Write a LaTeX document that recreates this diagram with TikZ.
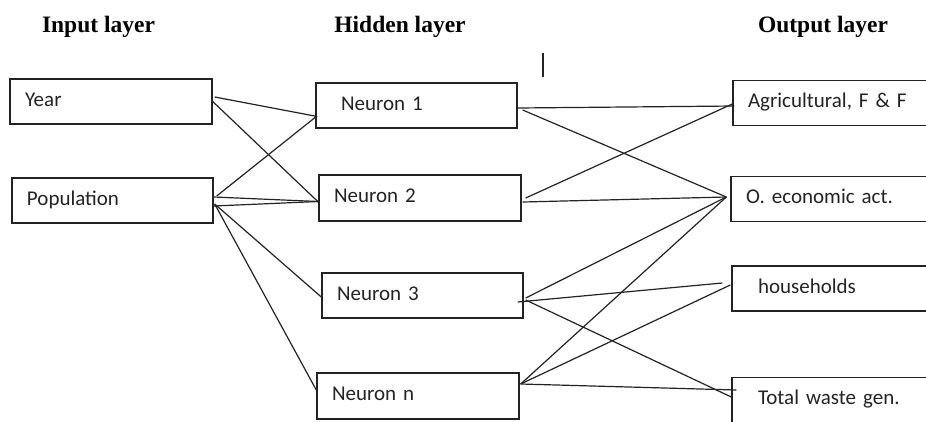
\documentclass[tikz,border=0pt]{standalone}
\usepackage{fontspec}
\setmainfont{Carlito}
\newfontfamily\titlefont{Liberation Serif}
\usepackage{tikz}
\definecolor{linkgray}{RGB}{35,35,35}
\tikzstyle{unitbox} = [draw=linkgray, line width=1.4pt, minimum height=45pt, inner xsep=15pt, text width=172pt, align=left, text height=14pt, text depth=5pt, text=linkgray, font=\fontsize{21}{26}\selectfont]
\tikzstyle{link} = [line width=1.2pt, color=linkgray]
\tikzstyle{layertitle} = [anchor=base, font=\titlefont\bfseries\fontsize{23.5}{28}\selectfont]

\begin{document}
\begin{tikzpicture}[x=1pt, y=-1pt]
\clip (0,0) rectangle (926,421);

% Layer titles
\node[layertitle] (tin) at (98.5,32) {Input layer};
\node[layertitle] (thid) at (400,32) {Hidden layer};
\node[layertitle] (tout) at (823,32) {Output layer};

% Input layer
\node[unitbox] (year) at (111,101.5) {Year};
\node[unitbox, text width=171pt] (pop) at (112.5,200.5) {Population};

% Hidden layer
\node[unitbox, inner xsep=25pt, text width=151pt] (n1) at (416.5,105.5) {Neuron 1};
\node[unitbox, minimum height=46pt] (n2) at (420,198) {Neuron 2};
\node[unitbox, text width=171pt] (n3) at (422.5,295.5) {Neuron 3};
\node[unitbox, minimum height=46pt] (nn) at (418,396) {Neuron n};

% Output layer
\node[unitbox] (agri) at (834,103) {Agricultural, F \& F};
\node[unitbox] (oeco) at (832,199) {O. economic act.};
\node[unitbox, inner xsep=26pt, text width=150pt] (hh) at (833,288.5) {households};
\node[unitbox, inner xsep=26pt, text width=150pt] (tw) at (833,400) {Total waste gen.};

% Stray mark
\coordinate (mark) at (543,53);
\draw[link] (mark) -- ++(0,24);

% Input -> hidden
\draw[link] ([xshift=2pt,yshift=4.5pt]year.east) -- ([xshift=2pt,yshift=-11pt]n1.west);
\draw[link] (year.east) -- ([yshift=-4pt]n2.west);
\draw[link] ([xshift=3pt,yshift=4.5pt]pop.east) -- ([xshift=1pt,yshift=-11pt]n1.west);
\draw[link] ([yshift=3.5pt]pop.east) -- ([yshift=-3.5pt]n2.west);
\draw[link] ([yshift=-5.5pt]pop.east) -- ([yshift=-3.5pt]n2.west);
\draw[link] ([xshift=1pt,yshift=-3.5pt]pop.east) -- ([yshift=-1.5pt]n3.west);
\draw[link] ([xshift=1pt,yshift=-3.5pt]pop.east) -- ([yshift=6pt]nn.west);

% Hidden -> output
\draw[link] ([yshift=-2.5pt]n1.east) -- ([xshift=2pt,yshift=-3pt]agri.west);
\draw[link] ([xshift=5pt,yshift=-4.5pt]n1.east) -- ([xshift=-4pt,yshift=2pt]oeco.west);
\draw[link] ([xshift=4pt]n2.east) -- ([yshift=-1pt]agri.west);
\draw[link] ([xshift=1pt,yshift=-4pt]n2.east) -- ([xshift=-4pt,yshift=2pt]oeco.west);
\draw[link] ([xshift=2pt,yshift=-2.5pt]n3.east) -- ([xshift=-4pt,yshift=2pt]oeco.west);
\draw[link] ([xshift=-6pt,yshift=-6.5pt]n3.east) -- ([xshift=-9pt,yshift=5.5pt]hh.west);
\draw[link] ([xshift=2pt,yshift=-4.5pt]n3.east) -- ([yshift=3pt]tw.west);
\draw[link] ([xshift=1pt,yshift=12pt]nn.east) -- ([xshift=-4pt,yshift=2pt]oeco.west);
\draw[link] ([xshift=1pt,yshift=12pt]nn.east) -- ([xshift=-1pt,yshift=3.5pt]hh.west);
\draw[link] ([xshift=1pt,yshift=12pt]nn.east) -- ([xshift=5pt,yshift=10pt]tw.west);
\end{tikzpicture}
\end{document}
